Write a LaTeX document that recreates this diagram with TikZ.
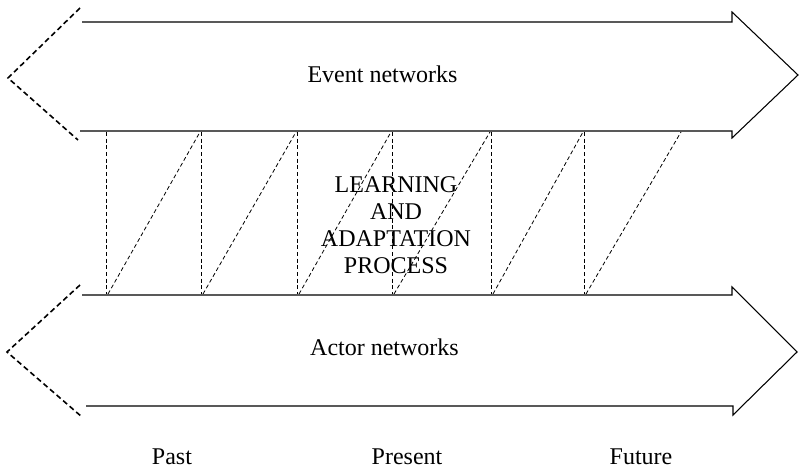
\documentclass[tikz,border=0pt]{standalone}
\usepackage{fontspec}
\setmainfont{Liberation Serif}
\usepackage{tikz}

\begin{document}
\begin{tikzpicture}[x=0.75pt,y=-0.75pt,line width=0.8pt,font=\fontsize{18}{20.25}\selectfont]
\useasboundingbox (0,0) rectangle (799,471);

\draw[style=dashed, line width=1.2 pt, dash pattern=on 4pt off 2.5pt] (80,8) -- (8,78) -- (78,140);
\draw (82,22) -- (732,22) -- (732,12) -- (798,75) -- (732,138) -- (732,131) -- (80,131);

\draw[style=dashed, line width=1.2 pt, dash pattern=on 4pt off 2.5pt] (80,285) -- (7,352) -- (82,417);
\draw (82,295) -- (732,295) -- (732,287) -- (797,352) -- (733,415) -- (733,406) -- (86,406);

\foreach \x/\nx in {106/201,201/297,297/392,392/491,491/584,584/682} {
  \draw[style=dashed, line width=0.6 pt, dash pattern=on 3pt off 2pt] (\x+2,294) -- (\nx-1,132);
}
\foreach \x in {106,201,297,392,491,584} {
  \draw[style=dashed, line width=0.6 pt, dash pattern=on 3pt off 2pt] (\x,132) -- (\x,294);
}

\node[anchor=base, inner sep=0pt] (event) at (382.5,82) {Event networks};
\node[anchor=base, inner sep=0pt] (actor) at (384.5,355) {Actor networks};
\node[align=center, inner sep=0pt] (learn) at (396,225) {LEARNING\\AND\\ADAPTATION\\PROCESS};

\node[anchor=base, inner sep=0pt] (past) at (172,464) {Past};
\node[anchor=base, inner sep=0pt] (present) at (407,464) {Present};
\node[anchor=base, inner sep=0pt] (future) at (641,464) {Future};

\end{tikzpicture}
\end{document}
